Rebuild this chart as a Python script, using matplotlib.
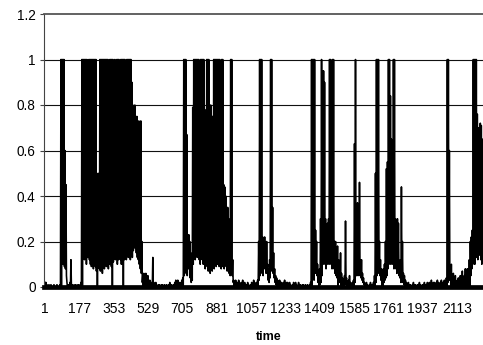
import numpy as np
import matplotlib
matplotlib.use("Agg")
import matplotlib.pyplot as plt

plt.rcParams['font.family'] = ['Liberation Sans', 'DejaVu Sans']

# values, one column of the chart at a time.
# bursts: [peak, trough] per column, quiet stretches: peak only (trough 0)
quiet_1 = [0.02, 0.02, 0.01, 0.0, 0.01, 0.0, 0.01, 0.0, 0.0, 0.01, 0.0, 0.0, 0.01, 0.0, 0.0, 0.01]
burst_a = [[1.0, 0.0], [1.0, 0.1], [1.0, 0.1], [1.0, 0.09], [0.6, 0.08], [0.45, 0.05]]
quiet_2 = [0.02, 0.01, 0.01, 0.02, 0.12, 0.01, 0.01, 0.0, 0.01, 0.01, 0.0, 0.01, 0.01, 0.0, 0.02]
burst_b = [[1.0, 0.0], [1.0, 0.15], [1.0, 0.12], [1.0, 0.14], [1.0, 0.10], [1.0, 0.13],
           [0.32, 0.15], [1.0, 0.12], [1.0, 0.10], [1.0, 0.09], [1.0, 0.12], [1.0, 0.08],
           [1.0, 0.10], [1.0, 0.09], [1.0, 0.07], [0.5, 0.0], [0.48, 0.1], [0.5, 0.08],
           [1.0, 0.07], [1.0, 0.09], [1.0, 0.06], [1.0, 0.1], [1.0, 0.08], [1.0, 0.12],
           [1.0, 0.09], [1.0, 0.1], [1.0, 0.08], [0.95, 0.1], [1.0, 0.12], [1.0, 0.09],
           [1.0, 0.0], [1.0, 0.11], [0.9, 0.13], [1.0, 0.12], [0.93, 0.15], [1.0, 0.1],
           [1.0, 0.12], [1.0, 0.14], [0.92, 0.12], [1.0, 0.1], [1.0, 0.15], [1.0, 0.0],
           [1.0, 0.12], [1.0, 0.14], [0.5, 0.12], [1.0, 0.15], [1.0, 0.13], [1.0, 0.16],
           [1.0, 0.12], [1.0, 0.14], [0.9, 0.13], [0.8, 0.16], [0.62, 0.18], [0.8, 0.17],
           [0.58, 0.15], [0.75, 0.13], [0.6, 0.12], [0.73, 0.1], [0.55, 0.08], [0.73, 0.06],
           [0.2, 0.02], [0.05, 0.0]]
quiet_3 = [0.06, 0.05, 0.06, 0.04, 0.05, 0.02, 0.03, 0.01, 0.02, 0.13, 0.02, 0.01, 0.02, 0.01,
           0.0, 0.01, 0.01, 0.0, 0.01, 0.01, 0.0, 0.01, 0.0, 0.01, 0.0, 0.01, 0.02, 0.01, 0.01,
           0.0, 0.01, 0.02, 0.03, 0.02, 0.03, 0.01, 0.02, 0.01, 0.03, 0.04]
burst_c = [[1.0, 0.05], [1.0, 0.08], [1.0, 0.06], [0.67, 0.05], [0.22, 0.08], [0.23, 0.1],
           [0.2, 0.04], [0.15, 0.02], [0.1, 0.03], [0.79, 0.1], [1.0, 0.14], [1.0, 0.12],
           [1.0, 0.15], [1.0, 0.13], [1.0, 0.14], [1.0, 0.12], [0.94, 0.1], [1.0, 0.13],
           [1.0, 0.12], [1.0, 0.1], [1.0, 0.11], [0.78, 0.08], [0.76, 0.1], [1.0, 0.09],
           [1.0, 0.07], [1.0, 0.08], [0.75, 0.06], [0.8, 0.08], [0.7, 0.07], [0.75, 0.09],
           [1.0, 0.08], [1.0, 0.1], [1.0, 0.09], [1.0, 0.1], [1.0, 0.12], [1.0, 0.09],
           [1.0, 0.1], [0.95, 0.08], [1.0, 0.09], [1.0, 0.1], [0.45, 0.08], [0.44, 0.1],
           [0.4, 0.09], [0.3, 0.07], [0.35, 0.08], [0.3, 0.06], [0.2, 0.05], [1.0, 0.07],
           [1.0, 0.05], [0.12, 0.02]]
quiet_4 = [0.03, 0.02, 0.03, 0.01, 0.02, 0.03, 0.02, 0.01, 0.02, 0.03, 0.01, 0.02, 0.01, 0.01,
           0.02, 0.01, 0.0, 0.01, 0.02, 0.01, 0.03, 0.02, 0.01, 0.02, 0.03]
burst_d = [[0.2, 0.03], [1.0, 0.05], [1.0, 0.08], [1.0, 0.06], [0.22, 0.05], [0.2, 0.08],
           [0.22, 0.1], [0.12, 0.06], [0.2, 0.08], [0.1, 0.03], [0.08, 0.02], [0.12, 0.04],
           [1.0, 0.07], [1.0, 0.1], [0.35, 0.06], [0.15, 0.04], [0.08, 0.02], [0.05, 0.01]]
quiet_5 = [0.04, 0.03, 0.02, 0.03, 0.02, 0.02, 0.01, 0.02, 0.03, 0.01, 0.02, 0.02, 0.01, 0.02,
           0.01, 0.0, 0.01, 0.02, 0.01, 0.02, 0.01, 0.0, 0.02, 0.01, 0.01, 0.0, 0.01, 0.01,
           0.0, 0.01, 0.0, 0.01, 0.0, 0.01, 0.02]
burst_e = [[1.0, 0.0], [1.0, 0.05], [1.0, 0.03], [1.0, 0.06], [0.25, 0.08], [0.2, 0.05],
           [0.1, 0.02], [0.05, 0.0], [0.08, 0.01], [0.3, 0.02], [1.0, 0.05], [0.95, 0.1],
           [0.95, 0.12], [0.9, 0.1], [0.3, 0.08], [0.25, 0.1], [0.28, 0.12], [0.3, 0.1],
           [1.0, 0.12], [1.0, 0.1], [0.22, 0.08], [1.0, 0.1], [1.0, 0.08], [0.2, 0.06],
           [0.2, 0.05], [0.15, 0.04], [0.18, 0.0], [0.12, 0.03], [0.1, 0.02], [0.15, 0.0],
           [0.06, 0.01], [0.04, 0.0], [0.03, 0.0], [0.05, 0.01], [0.29, 0.02], [0.04, 0.0]]
quiet_6 = [0.02, 0.03, 0.05, 0.02, 0.01, 0.02, 0.03]
burst_f = [[0.63, 0.02], [1.0, 0.05], [0.2, 0.05], [0.37, 0.06], [0.15, 0.05], [0.46, 0.08],
           [0.1, 0.04], [0.12, 0.03], [0.06, 0.02], [0.04, 0.01]]
quiet_7 = [0.02, 0.01, 0.02, 0.01, 0.0, 0.01, 0.02, 0.01, 0.01, 0.02]
burst_g = [[0.05, 0.0], [0.5, 0.02], [1.0, 0.05], [1.0, 0.06], [1.0, 0.08], [0.2, 0.05],
           [0.12, 0.03], [0.08, 0.0], [0.06, 0.0], [0.08, 0.02], [0.1, 0.03], [0.2, 0.04],
           [0.52, 0.05], [0.55, 0.08], [1.0, 0.1], [1.0, 0.12], [0.84, 0.1], [0.65, 0.12],
           [0.6, 0.1], [1.0, 0.08], [1.0, 0.1], [0.3, 0.08], [0.25, 0.06], [0.3, 0.07],
           [0.28, 0.05], [0.1, 0.04], [0.12, 0.02], [0.44, 0.03], [0.2, 0.02], [0.06, 0.01],
           [0.05, 0.0], [0.03, 0.0], [0.02, 0.0]]
quiet_8 = [0.01, 0.02, 0.01, 0.01, 0.0, 0.01, 0.02, 0.01, 0.01, 0.0, 0.01, 0.01, 0.02, 0.01,
           0.0, 0.01, 0.01, 0.02, 0.01, 0.01, 0.02, 0.01, 0.02, 0.01, 0.03, 0.01, 0.02, 0.02,
           0.01, 0.02, 0.03, 0.02, 0.01, 0.02, 0.03, 0.02, 0.02, 0.03, 0.02, 0.04]
burst_h = [[1.0, 0.02], [1.0, 0.05], [0.6, 0.03]]
quiet_9 = [0.08, 0.1, 0.04, 0.06, 0.03, 0.05, 0.02, 0.03, 0.04, 0.03, 0.05, 0.04, 0.07, 0.03,
           0.05, 0.08, 0.06, 0.08, 0.05, 0.12]
burst_i = [[0.2, 0.05], [0.22, 0.08], [0.25, 0.1], [1.0, 0.12], [1.0, 0.1], [1.0, 0.15],
           [1.0, 0.13], [0.76, 0.12], [0.7, 0.15], [0.6, 0.14], [0.72, 0.12], [0.71, 0.1],
           [0.65, 0.12]]

n_steps = 2245
tick_vals = [1, 177, 353, 529, 705, 881, 1057, 1233, 1409, 1585, 1761, 1937, 2113]
y_ticks = [0, 0.2, 0.4, 0.6, 0.8, 1.0, 1.2]
y_labels = ['0', '0.2', '0.4', '0.6', '0.8', '1', '1.2']

order = [quiet_1, burst_a, quiet_2, burst_b, quiet_3, burst_c, quiet_4, burst_d, quiet_5,
         burst_e, quiet_6, burst_f, quiet_7, burst_g, quiet_8, burst_h, quiet_9, burst_i]
y = []
for seg in order:
    for v in seg:
        if isinstance(v, list):
            y.extend(v)
        else:
            y.extend([v, 0.0])
y = np.array(y)
t = np.linspace(1, n_steps, len(y))

fig = plt.figure(figsize=(4.83, 3.45), dpi=100)
ax = fig.add_axes([44 / 483, 58 / 345, 439 / 483, 273 / 345])

for g in y_ticks[1:-1]:
    ax.axhline(g, color='#111111', lw=0.8, zorder=1)
ax.plot(t, y, color='black', lw=1.15, zorder=2)

ax.set_xlim(-4, 2246)
ax.set_ylim(0, 1.2)
ax.set_yticks(y_ticks)
ax.set_yticklabels(y_labels)
ax.set_xticks(tick_vals)
ax.set_xticklabels([str(v) for v in tick_vals])
ax.tick_params(axis='y', length=3, width=0.8, color='#444444', pad=3, labelsize=9.8)
ax.tick_params(axis='x', length=0, pad=11, labelsize=10)

ax.spines['right'].set_visible(False)
ax.spines['top'].set_color('#555555')
ax.spines['top'].set_linewidth(1.3)
ax.spines['left'].set_color('#444444')
ax.spines['left'].set_linewidth(0.8)
ax.spines['bottom'].set_color('black')
ax.spines['bottom'].set_linewidth(3.4)

fig.text(268.5 / 483, 1 - 337 / 345, 'time', ha='center', va='center',
         fontsize=9, fontweight='bold')

fig.savefig('out.png', dpi=100)
